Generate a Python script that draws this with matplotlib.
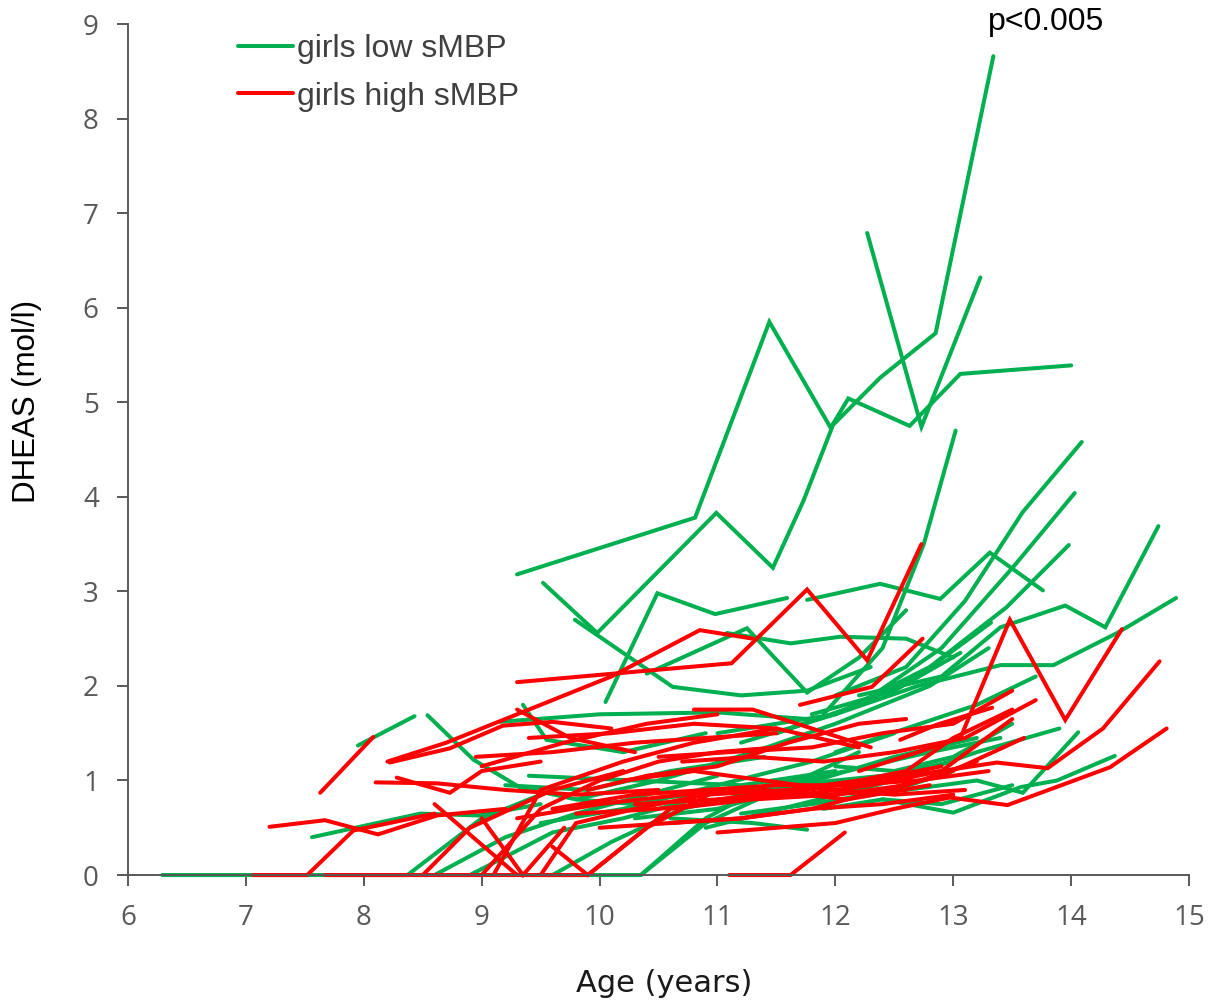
import numpy as np
import matplotlib
matplotlib.use("Agg")
import matplotlib.pyplot as plt
from matplotlib.lines import Line2D

# girls low sMBP (green) - age (years) / DHEAS per girl
low_age = [
    [9.30, 10.81, 11.44, 11.96, 12.11, 12.63, 13.06, 14.00],
    [9.52, 9.98, 10.99, 11.47, 11.73, 11.98, 12.38, 12.85, 13.34],
    [12.27, 12.73, 13.23],
    [10.05, 10.49, 10.98, 11.59],
    [11.76, 12.38, 12.89, 13.31, 13.76],
    [11.9, 12.4, 12.75, 13.02],
    [12.0, 12.6, 13.1, 13.59, 14.09],
    [11.5, 12.2, 12.9, 13.51, 14.03],
    [11.2, 12.0, 12.8, 13.45, 13.98],
    [12.2, 12.9, 13.4, 13.95, 14.29, 14.74],
    [11.0, 12.0, 12.7, 13.4, 13.85, 14.39, 14.89],
    [12.4, 13.0, 13.57, 13.88, 14.37],
    [12.6, 13.2, 13.59, 14.06],
    [6.29, 7.62, 8.37, 9.0, 9.6],
    [9.4, 9.93, 10.35, 10.9, 11.5],
    [7.56, 8.48, 8.97, 9.5],
    [7.95, 8.43],
    [8.54, 8.93, 9.32, 9.8, 10.3],
    [9.15, 10.0, 11.0, 11.76],
    [9.35, 9.55, 10.2, 10.9],
    [9.79, 10.62, 11.2, 11.76, 12.3],
    [11.08, 11.62, 12.04, 12.6, 13.0],
    [10.4, 11.25, 11.76, 12.2, 12.6],
    [9.2, 9.9, 10.6, 11.4],
    [9.5, 10.2, 11.0, 11.8, 12.5],
    [9.8, 10.5, 11.3, 12.0, 12.8, 13.3],
    [10.3, 11.0, 11.7, 12.5, 13.2],
    [10.9, 11.7, 12.5, 13.2, 13.9],
    [8.6, 9.2, 9.8, 10.4, 11.0],
    [8.9, 9.6, 10.2, 10.8],
    [9.6, 10.1, 10.7, 11.4, 11.9],
    [10.35, 10.9, 11.6, 12.2],
    [9.4, 10.3, 11.2, 12.0],
    [11.2, 11.8, 12.5, 13.0],
    [12.0, 12.6, 13.2, 13.7],
    [11.5, 12.2, 12.7, 13.32],
    [11.8, 12.5, 13.06],
    [10.6, 11.3, 11.76],
    [12.0, 12.5, 13.0, 13.5],
    [11.9, 12.4, 12.9, 13.5],
    [10.0, 10.8, 11.6, 12.4, 13.0],
    [11.4, 12.1, 12.8, 13.4],
]
low_dheas = [
    [3.18, 3.78, 5.85, 4.73, 5.04, 4.75, 5.30, 5.39],
    [3.09, 2.56, 3.83, 3.25, 3.96, 4.76, 5.26, 5.73, 8.66],
    [6.79, 4.74, 6.32],
    [1.83, 2.98, 2.76, 2.93],
    [2.91, 3.08, 2.92, 3.41, 3.01],
    [1.7, 2.4, 3.5, 4.70],
    [1.9, 2.2, 2.9, 3.84, 4.58],
    [1.5, 1.8, 2.4, 3.26, 4.04],
    [1.4, 1.7, 2.2, 2.83, 3.49],
    [1.9, 2.1, 2.62, 2.85, 2.62, 3.69],
    [1.5, 1.7, 2.0, 2.22, 2.22, 2.56, 2.93],
    [0.8, 0.66, 0.93, 1.0, 1.26],
    [0.9, 1.0, 0.87, 1.51],
    [0.0, 0.0, 0.0, 0.6, 0.9],
    [0.0, 0.0, 0.0, 0.6, 1.0],
    [0.40, 0.65, 0.63, 0.75],
    [1.37, 1.68],
    [1.69, 1.22, 0.93, 0.8, 0.75],
    [1.62, 1.70, 1.72, 1.65],
    [1.80, 1.43, 1.3, 1.5],
    [2.70, 1.99, 1.9, 1.95, 2.2],
    [2.56, 2.45, 2.52, 2.5, 2.3],
    [2.13, 2.61, 1.93, 2.3, 2.8],
    [0.95, 0.9, 1.1, 1.25],
    [0.55, 0.7, 0.95, 1.2, 1.5],
    [0.8, 1.0, 1.3, 1.6, 2.0, 2.4],
    [0.6, 0.7, 0.95, 1.25, 1.45],
    [0.5, 0.75, 1.0, 1.3, 1.55],
    [0.0, 0.4, 0.65, 0.85, 1.05],
    [0.0, 0.45, 0.6, 0.8],
    [0.0, 0.35, 0.7, 0.9, 1.05],
    [0.0, 0.55, 0.95, 1.3],
    [1.05, 1.0, 0.95, 1.1],
    [0.65, 0.75, 0.9, 1.1],
    [1.3, 1.55, 1.8, 2.1],
    [1.5, 1.8, 2.1, 2.67],
    [1.7, 1.95, 2.35],
    [0.6, 0.55, 0.48],
    [1.15, 1.1, 1.25, 1.6],
    [0.7, 0.8, 0.75, 0.95],
    [0.75, 0.85, 0.95, 1.05, 1.2],
    [0.95, 1.1, 1.3, 1.45],
]

# girls high sMBP (red)
high_age = [
    [9.3, 11.12, 11.76, 12.27, 12.73],
    [8.2, 8.7, 9.4, 10.1, 10.85, 11.3],
    [12.2, 12.7, 13.06, 13.48, 13.95, 14.43],
    [11.5, 12.3, 12.9, 13.37, 13.8, 14.27, 14.75],
    [11.0, 12.0, 12.5, 12.97, 13.46, 14.33, 14.81],
    [11.1, 11.62, 12.08],
    [11.7, 12.31, 12.74],
    [12.55, 12.86, 13.33],
    [7.06, 7.52, 7.91, 8.6],
    [7.2, 7.67, 8.12, 8.62, 9.2],
    [7.63, 8.08],
    [8.22, 8.73, 9.18, 9.6, 10.1],
    [8.1, 8.62, 9.2, 9.8, 10.5],
    [8.28, 8.73, 9.0, 9.5],
    [7.67, 9.2, 9.9, 10.4, 11.0],
    [8.6, 9.3],
    [9.0, 9.5, 10.0, 10.5, 11.0, 11.5],
    [9.1, 9.5, 10.2, 10.8, 11.5],
    [9.0, 9.35, 9.7],
    [9.5, 9.8, 10.3, 10.9, 11.6, 12.2],
    [9.6, 9.9, 10.6, 11.3, 12.0, 12.6, 13.2],
    [9.3, 10.0, 10.7, 11.4, 12.1, 12.8],
    [9.6, 10.3, 10.9, 11.5, 12.1, 12.7, 13.3],
    [10.0, 10.6, 11.2, 11.8, 12.4, 13.0],
    [10.2, 10.8, 11.4, 12.0, 12.5, 13.1],
    [9.4, 10.1, 10.8, 11.5, 12.2],
    [10.5, 11.1, 11.8, 12.4, 13.0, 13.5],
    [9.9, 10.4, 11.0, 11.6, 12.2, 12.6],
    [10.6, 11.2, 11.8, 12.4, 12.9, 13.6],
    [9.0, 9.7, 10.4, 11.0],
    [8.95, 9.6, 10.3, 10.9, 11.5],
    [10.7, 11.3, 11.9, 12.5, 13.1, 13.7],
    [11.0, 11.7, 12.3, 12.9, 13.5],
    [12.0, 12.6, 13.0, 13.5],
    [10.8, 11.3, 11.8, 12.3],
    [8.5, 8.9, 9.6, 10.2],
    [9.3, 9.75, 10.3],
    [10.3, 11.0, 11.7, 12.3, 12.9],
    [9.8, 10.5, 11.2, 11.9, 12.6],
]
high_dheas = [
    [2.04, 2.24, 3.02, 2.27, 3.50],
    [1.2, 1.4, 1.75, 2.1, 2.59, 2.5],
    [1.1, 1.3, 1.45, 2.70, 1.64, 2.60],
    [0.85, 1.0, 1.1, 1.19, 1.13, 1.55, 2.26],
    [0.45, 0.55, 0.7, 0.82, 0.74, 1.14, 1.55],
    [0.0, 0.0, 0.45],
    [1.8, 1.99, 2.5],
    [1.43, 1.59, 1.77],
    [0.0, 0.0, 0.47, 0.65],
    [0.51, 0.58, 0.43, 0.63, 0.7],
    [0.87, 1.46],
    [1.19, 1.34, 1.58, 1.62, 1.55],
    [0.98, 0.97, 0.9, 0.85, 0.9],
    [1.03, 0.87, 1.1, 1.2],
    [0.0, 0.0, 0.0, 0.5, 0.9],
    [0.75, 0.0],
    [0.0, 0.7, 1.0, 1.2, 1.3, 1.35],
    [0.0, 0.9, 1.2, 1.4, 1.55],
    [0.6, 0.0, 0.5],
    [0.0, 0.55, 0.7, 0.85, 0.9, 1.0],
    [0.3, 0.0, 0.7, 0.8, 0.85, 0.95, 1.2],
    [0.6, 0.75, 0.85, 0.9, 0.8, 0.95],
    [0.7, 0.85, 0.9, 0.95, 0.95, 1.0, 1.1],
    [0.5, 0.55, 0.6, 0.7, 0.75, 0.85],
    [1.0, 1.1, 1.0, 0.9, 0.85, 0.9],
    [1.45, 1.5, 1.6, 1.55, 1.35],
    [1.25, 1.3, 1.35, 1.5, 1.6, 1.95],
    [0.9, 1.05, 1.15, 1.4, 1.6, 1.65],
    [0.55, 0.6, 0.7, 0.9, 1.05, 1.45],
    [1.15, 1.4, 1.6, 1.7],
    [1.25, 1.3, 1.4, 1.45, 1.5],
    [1.2, 1.25, 1.2, 1.3, 1.45, 1.85],
    [0.8, 0.85, 0.95, 1.1, 1.65],
    [0.95, 1.1, 1.45, 1.75],
    [1.75, 1.75, 1.55, 1.35],
    [0.0, 0.5, 0.9, 1.1],
    [1.75, 1.45, 1.3],
    [0.75, 0.8, 0.9, 1.0, 1.15],
    [0.65, 0.7, 0.8, 0.85, 0.9],
]

GREEN = "#00B050"
RED = "#FF0000"
GRAY = "#595959"
LW = 2.9

fig = plt.figure(figsize=(12.09, 10.02), dpi=100)
ax = fig.add_axes([0.1059, 0.1267, 0.8776, 0.8493])

for xs, ys in zip(low_age, low_dheas):
    ax.plot(xs, ys, color=GREEN, lw=LW, solid_capstyle="round", solid_joinstyle="miter", clip_on=False)
for xs, ys in zip(high_age, high_dheas):
    ax.plot(xs, ys, color=RED, lw=LW, solid_capstyle="round", solid_joinstyle="miter", clip_on=False)

ax.set_xlim(6, 15)
ax.set_ylim(0, 9)
ax.set_xticks(range(6, 16))
ax.set_yticks(range(0, 10))
for s in ["top", "right"]:
    ax.spines[s].set_visible(False)
for s in ["left", "bottom"]:
    ax.spines[s].set_color(GRAY)
    ax.spines[s].set_linewidth(1.4)
ax.tick_params(axis="both", direction="out", length=8, width=1.4, color=GRAY,
               labelcolor=GRAY, labelsize=20, pad=13)
for lab in ax.get_xticklabels() + ax.get_yticklabels():
    lab.set_family("Open Sans")

ax.set_xlabel("Age (years)", fontsize=22, color="#1a1a1a")
ax.xaxis.label.set_va("center")
ax.xaxis.set_label_coords(0.505, -0.127)
ax.set_ylabel("DHEAS (mol/l)", fontsize=22.5, family="Liberation Sans", color="black")
ax.yaxis.label.set_va("center")
ax.yaxis.set_label_coords(-0.095, 0.556)

ax.text(13.79, 9.02, "p<0.005", fontsize=23, family="Liberation Sans",
        ha="center", va="center", clip_on=False)

handles = [Line2D([], [], color=GREEN, lw=LW, solid_capstyle="round"),
           Line2D([], [], color=RED, lw=LW, solid_capstyle="round")]
leg = ax.legend(handles, ["girls low sMBP", "girls high sMBP"], loc="upper left",
                bbox_to_anchor=(0.1037, 0.988), frameon=False, borderpad=0,
                borderaxespad=0, handlelength=1.72, handletextpad=0.12,
                labelspacing=0.54, prop={"family": "Liberation Sans", "size": 23})
for t in leg.get_texts():
    t.set_color("#404040")

fig.savefig("out.png", dpi=100)
